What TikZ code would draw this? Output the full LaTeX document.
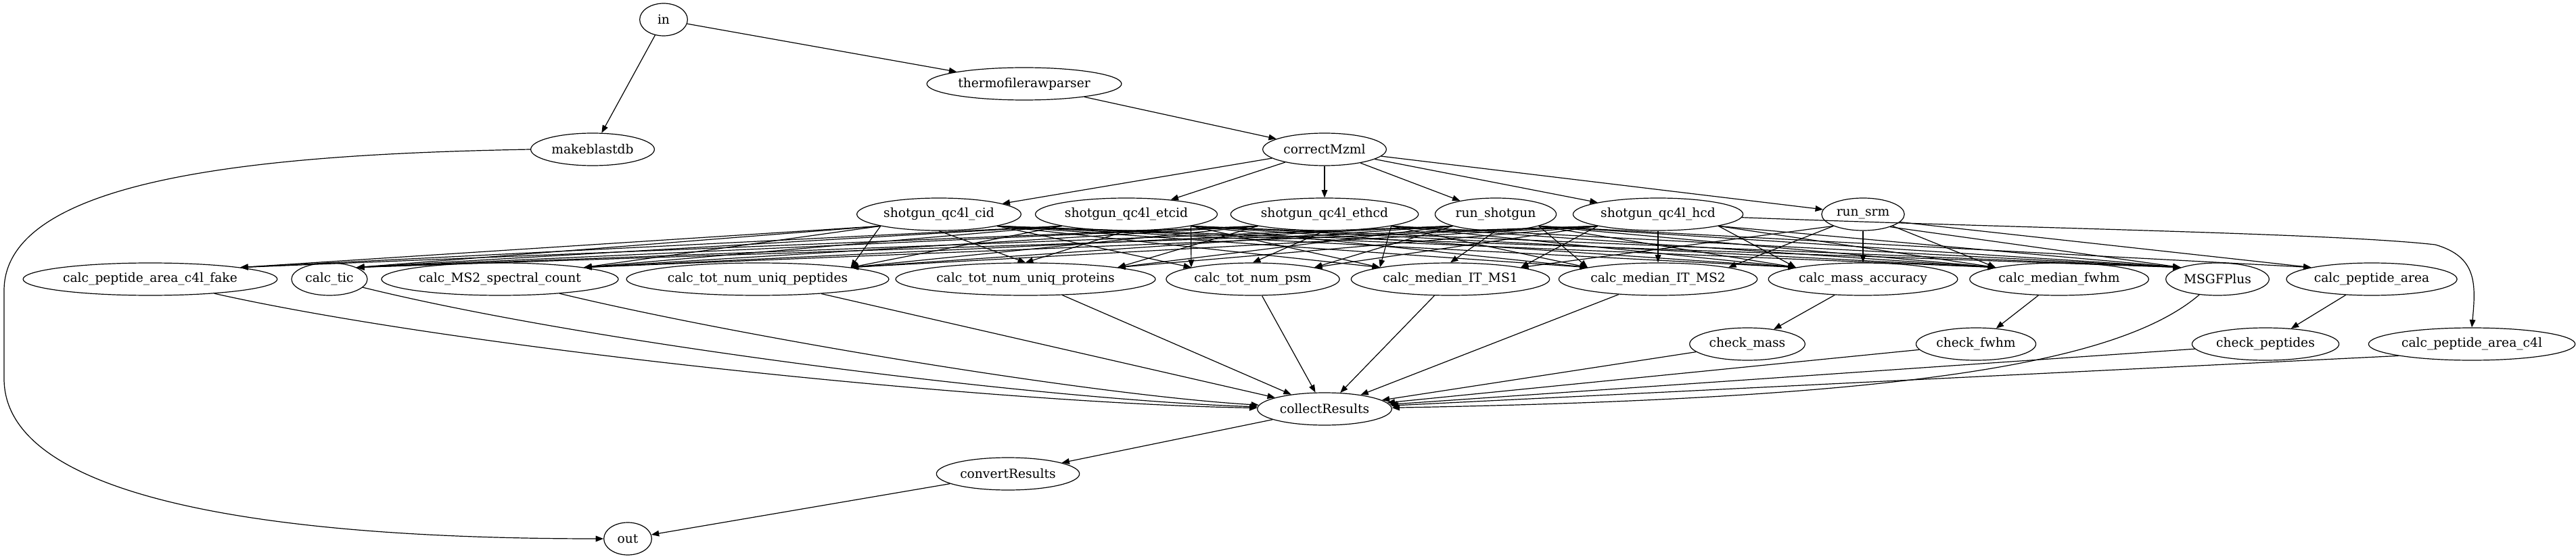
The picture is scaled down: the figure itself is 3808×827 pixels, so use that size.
\documentclass[tikz,border=0pt]{standalone}
\usepackage{fontspec}
\setmainfont{DejaVu Serif}
\usetikzlibrary{arrows.meta,positioning,shapes.geometric}
\tikzset{
 job/.style={draw,ellipse,line width=0.9pt,font=\fontsize{14pt}{17pt}\selectfont,inner xsep=3pt,inner ysep=2pt,minimum height=36pt,minimum width=53pt},
 link/.style={-{Triangle[length=8.5pt,width=6.5pt]},line width=0.9pt}
}
\begin{document}
\begin{tikzpicture}[x=0.75pt,y=-0.75pt]
\useasboundingbox (0,0) rectangle (3808,827);
% input and conversion
\node[job] (in) at (981,29) {in};
\node[job] (thermo) at (1514,124) {thermofilerawparser};
\node[job] (mkdb) at (876,221) {makeblastdb};
\node[job] (correct) at (1958,221) {correctMzml};
% runs
\node[job] (cid) at (1388,317) {shotgun\_qc4l\_cid};
\node[job] (etcid) at (1665,317) {shotgun\_qc4l\_etcid};
\node[job] (ethcd) at (1958,317) {shotgun\_qc4l\_ethcd};
\node[job] (rshot) at (2211,317) {run\_shotgun};
\node[job] (hcd) at (2451,317) {shotgun\_qc4l\_hcd};
\node[job] (srm) at (2754,317) {run\_srm};
% metrics
\node[job] (fake) at (222,413) {calc\_peptide\_area\_c4l\_fake};
\node[job] (tic) at (487,413) {calc\_tic};
\node[job] (ms2c) at (739,413) {calc\_MS2\_spectral\_count};
\node[job] (upep) at (1120,413) {calc\_tot\_num\_uniq\_peptides};
\node[job] (uprot) at (1516,413) {calc\_tot\_num\_uniq\_proteins};
\node[job] (psm) at (1852,413) {calc\_tot\_num\_psm};
\node[job] (it1) at (2144,413) {calc\_median\_IT\_MS1};
\node[job] (it2) at (2451,413) {calc\_median\_IT\_MS2};
\node[job] (macc) at (2754,413) {calc\_mass\_accuracy};
\node[job] (fwhm) at (3044,413) {calc\_median\_fwhm};
\node[job] (msgf) at (3278,413) {MSGFPlus};
\node[job] (parea) at (3506,413) {calc\_peptide\_area};
% checks
\node[job] (chkmass) at (2583,509) {check\_mass};
\node[job] (chkfwhm) at (2921,509) {check\_fwhm};
\node[job] (chkpep) at (3349,509) {check\_peptides};
\node[job] (pac4l) at (3654,509) {calc\_peptide\_area\_c4l};
% output
\node[job] (collect) at (1958,605) {collectResults};
\node[job] (convert) at (1490,701) {convertResults};
\node[job] (out) at (928,797) {out};

\draw[link] (in) -- (mkdb);
\draw[link] (in) -- (thermo);
\draw[link] (thermo) -- (correct);
\foreach \t in {cid,etcid,ethcd,rshot,hcd,srm} \draw[link] (correct) -- (\t);

% runs into the metric nodes
\foreach \t in {fake,tic,ms2c,upep} \draw[link] (cid.south west) -- (\t.north east);
\draw[link] (cid.south) -- (uprot.north);
\foreach \t in {psm,it1,it2,macc,fwhm,msgf} \draw[link] (cid.south east) -- (\t.north west);

\foreach \t in {fake,tic,ms2c,upep} \draw[link] (etcid.south west) -- (\t.north east);
\draw[link] (etcid.south) -- (uprot.north);
\foreach \t in {psm,it1,it2,macc,fwhm,msgf} \draw[link] (etcid.south east) -- (\t.north west);

\foreach \t in {fake,tic,ms2c,upep,uprot} \draw[link] (ethcd.south west) -- (\t.north east);
\draw[link] (ethcd.south) -- (psm.north);
\foreach \t in {it1,it2,macc,fwhm,msgf} \draw[link] (ethcd.south east) -- (\t.north west);

\foreach \t in {tic,ms2c,upep,uprot,psm} \draw[link] (rshot.south west) -- (\t.north east);
\draw[link] (rshot.south) -- (it1.north);
\foreach \t in {it2,macc,fwhm,msgf,parea} \draw[link] (rshot.south east) -- (\t.north west);

\foreach \t in {tic,ms2c,upep,uprot,psm,it1} \draw[link] (hcd.south west) -- (\t.north east);
\draw[link] (hcd.south) -- (it2.north);
\foreach \t in {macc,fwhm,msgf} \draw[link] (hcd.south east) -- (\t.north west);
\draw[link] (hcd) .. controls (3000,338) and (3450,345) .. (3600,362) .. controls (3662,380) and (3660,420) .. (pac4l.north);

\foreach \t in {it1,it2} \draw[link] (srm.south west) -- (\t.north east);
\draw[link] (srm.south) -- (macc.north);
\draw[link] (srm.south east) -- (fwhm.north west);
\draw[link] (srm.-25) -- (msgf.north west);
\draw[link] (srm.-12) -- (parea.north west);

% checks
\draw[link] (macc) -- (chkmass);
\draw[link] (fwhm) -- (chkfwhm);
\draw[link] (parea) -- (chkpep);

% collecting
\draw[link] (fake) .. controls (700,520) and (1500,598) .. (collect);
\draw[link] (tic) .. controls (880,510) and (1550,592) .. (collect);
\draw[link] (ms2c) .. controls (1100,500) and (1620,585) .. (collect);
\foreach \s in {upep,uprot,psm,it1,it2,chkmass,chkfwhm,chkpep} \draw[link] (\s) -- (collect);
\draw[link] (pac4l.south west) -- (collect);
\draw[link] (msgf) .. controls (3130,540) and (2800,590) .. (collect);
\draw[link] (collect) -- (convert);
\draw[link] (convert) -- (out);
\draw[link] (mkdb.west) .. controls (400,228) and (6,260) .. (6,430) -- (6,560) .. controls (6,760) and (500,797) .. (out.west);
\end{tikzpicture}
\end{document}
